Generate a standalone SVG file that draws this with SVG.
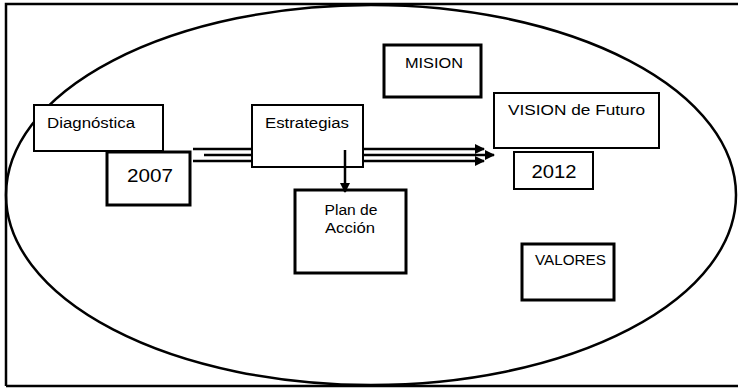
<svg xmlns="http://www.w3.org/2000/svg" width="738" height="388" viewBox="0 0 738 388">
<defs>
<style>
.box{fill:#fff;stroke:#000;stroke-width:2}
.thick{stroke-width:3}
.t{font-family:"Liberation Sans",Arial,sans-serif;font-size:14px;fill:#000}
.n{font-family:"Liberation Sans",Arial,sans-serif;font-size:19px;fill:#000}
.ln{stroke:#000;stroke-width:2.5;fill:none}
</style>
<marker id="ah" viewBox="0 0 10 10" refX="9" refY="5" markerWidth="4.5" markerHeight="4" orient="auto" markerUnits="strokeWidth">
<path d="M0,0 L10,5 L0,10 z" fill="#000"/>
</marker>
</defs>
<rect x="0" y="0" width="738" height="388" fill="#fff"/>
<path d="M6,386 L6,4 L738,4" fill="none" stroke="#000" stroke-width="2.5"/>
<line x1="6" y1="386" x2="738" y2="386" stroke="#000" stroke-width="2.5"/>
<ellipse cx="371" cy="195" rx="365" ry="190" fill="none" stroke="#000" stroke-width="2.5"/>
<g id="connectors">
<line class="ln" x1="193" y1="149" x2="252" y2="149"/>
<line class="ln" x1="204" y1="155" x2="252" y2="155"/>
<line class="ln" x1="193" y1="161" x2="252" y2="161"/>
<line class="ln" x1="363" y1="149" x2="484" y2="149" marker-end="url(#ah)"/>
<line class="ln" x1="363" y1="155" x2="494" y2="155" marker-end="url(#ah)"/>
<line class="ln" x1="363" y1="161" x2="484" y2="161" marker-end="url(#ah)"/>
</g>
<g id="diagnostica">
<rect class="box" x="34" y="105" width="129" height="46"/>
<text class="t" x="47" y="128" textLength="88" lengthAdjust="spacingAndGlyphs">Diagnóstica</text>
</g>
<g id="y2007">
<rect class="box thick" x="107" y="152" width="83" height="53"/>
<text class="n" x="150" y="182" text-anchor="middle" textLength="46" lengthAdjust="spacingAndGlyphs">2007</text>
</g>
<g id="estrategias">
<rect class="box" x="252" y="105" width="111" height="62"/>
<text class="t" x="265" y="128" textLength="84" lengthAdjust="spacingAndGlyphs">Estrategias</text>
</g>
<g id="plan">
<rect class="box thick" x="295" y="190" width="111" height="83"/>
<text class="t" x="351" y="215" text-anchor="middle" textLength="53" lengthAdjust="spacingAndGlyphs">Plan de</text>
<text class="t" x="350" y="233" text-anchor="middle" textLength="50" lengthAdjust="spacingAndGlyphs">Acción</text>
</g>
<g id="connectors2">
<line class="ln" x1="345" y1="150" x2="345" y2="192" marker-end="url(#ah)"/>
</g>
<g id="mision">
<rect class="box thick" x="384" y="45" width="97" height="52"/>
<text class="t" x="405" y="68" textLength="58" lengthAdjust="spacingAndGlyphs">MISION</text>
</g>
<g id="vision">
<rect class="box" x="494" y="93" width="165" height="55"/>
<text class="t" x="508" y="115" textLength="137" lengthAdjust="spacingAndGlyphs">VISION de Futuro</text>
</g>
<g id="y2012">
<rect class="box" x="514" y="152" width="79" height="37"/>
<text class="n" x="554" y="178" text-anchor="middle" textLength="45" lengthAdjust="spacingAndGlyphs">2012</text>
</g>
<g id="valores">
<rect class="box thick" x="522" y="244" width="92" height="56"/>
<text class="t" x="535" y="265" textLength="71" lengthAdjust="spacingAndGlyphs">VALORES</text>
</g>
</svg>
